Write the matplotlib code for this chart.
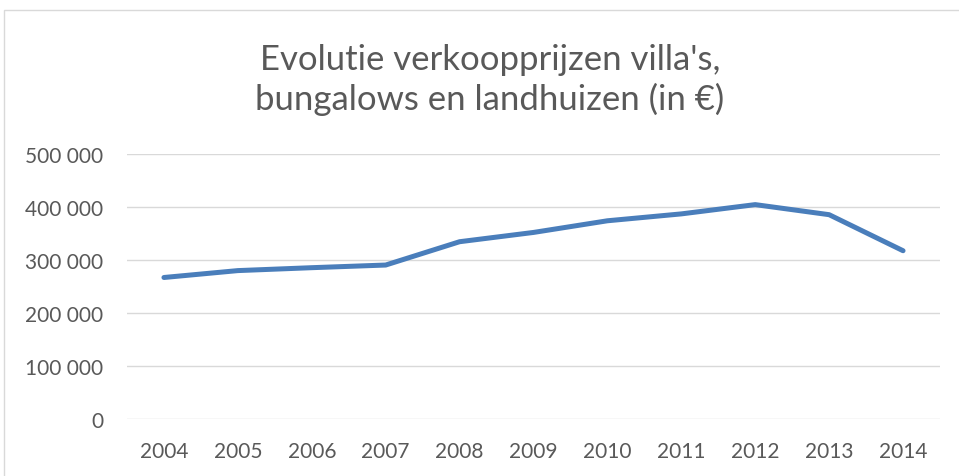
import matplotlib
matplotlib.use("Agg")
import matplotlib.pyplot as plt
from matplotlib.patches import Rectangle
from matplotlib.ticker import FuncFormatter

years = ["2004", "2005", "2006", "2007", "2008", "2009", "2010", "2011", "2012", "2013", "2014"]
prices = [267000, 280000, 285500, 290500, 334500, 352000, 374000, 387000, 404500, 385500, 317500]
yticks = [0, 100000, 200000, 300000, 400000, 500000]
title = "Evolutie verkoopprijzen villa's,\nbungalows en landhuizen (in €)"

plt.rcParams['font.family'] = ['Lato', 'DejaVu Sans']
W, H = 959, 477
fig = plt.figure(figsize=(W / 100, H / 100), dpi=100)
fig.patch.set_facecolor('white')

# outer chart frame
fig.patches.append(Rectangle((4 / W, -0.01), 1.0, (H - 11) / H + 0.01, transform=fig.transFigure,
                             fill=False, edgecolor='#d9d9d9', linewidth=1.0))

ax = fig.add_axes([127 / W, (H - 420) / H, (940 - 127) / W, 265 / H])
x = list(range(len(years)))
ax.plot(x, prices, color='#4a7ebb', linewidth=3.6, solid_capstyle='round', solid_joinstyle='round', zorder=3)
ax.set_xlim(-0.5, len(years) - 0.5)
ax.set_ylim(0, 500000)
ax.set_yticks(yticks)
ax.yaxis.set_major_formatter(FuncFormatter(lambda v, p: f"{int(v):,}".replace(",", " ")))
ax.set_xticks(x)
ax.set_xticklabels(years)
ax.grid(axis='y', color='#d9d9d9', linewidth=1.0)
ax.set_axisbelow(True)
for s in ax.spines.values():
    s.set_visible(False)
ax.tick_params(axis='both', length=0, colors='#595959', labelsize=15)
ax.tick_params(axis='y', pad=17)
ax.tick_params(axis='x', pad=16)

fig.text(490 / W, 1 - 80 / H, title, ha='center', va='center', fontsize=25, color='#595959',
         linespacing=1.25)

fig.savefig('out.png', dpi=100)
